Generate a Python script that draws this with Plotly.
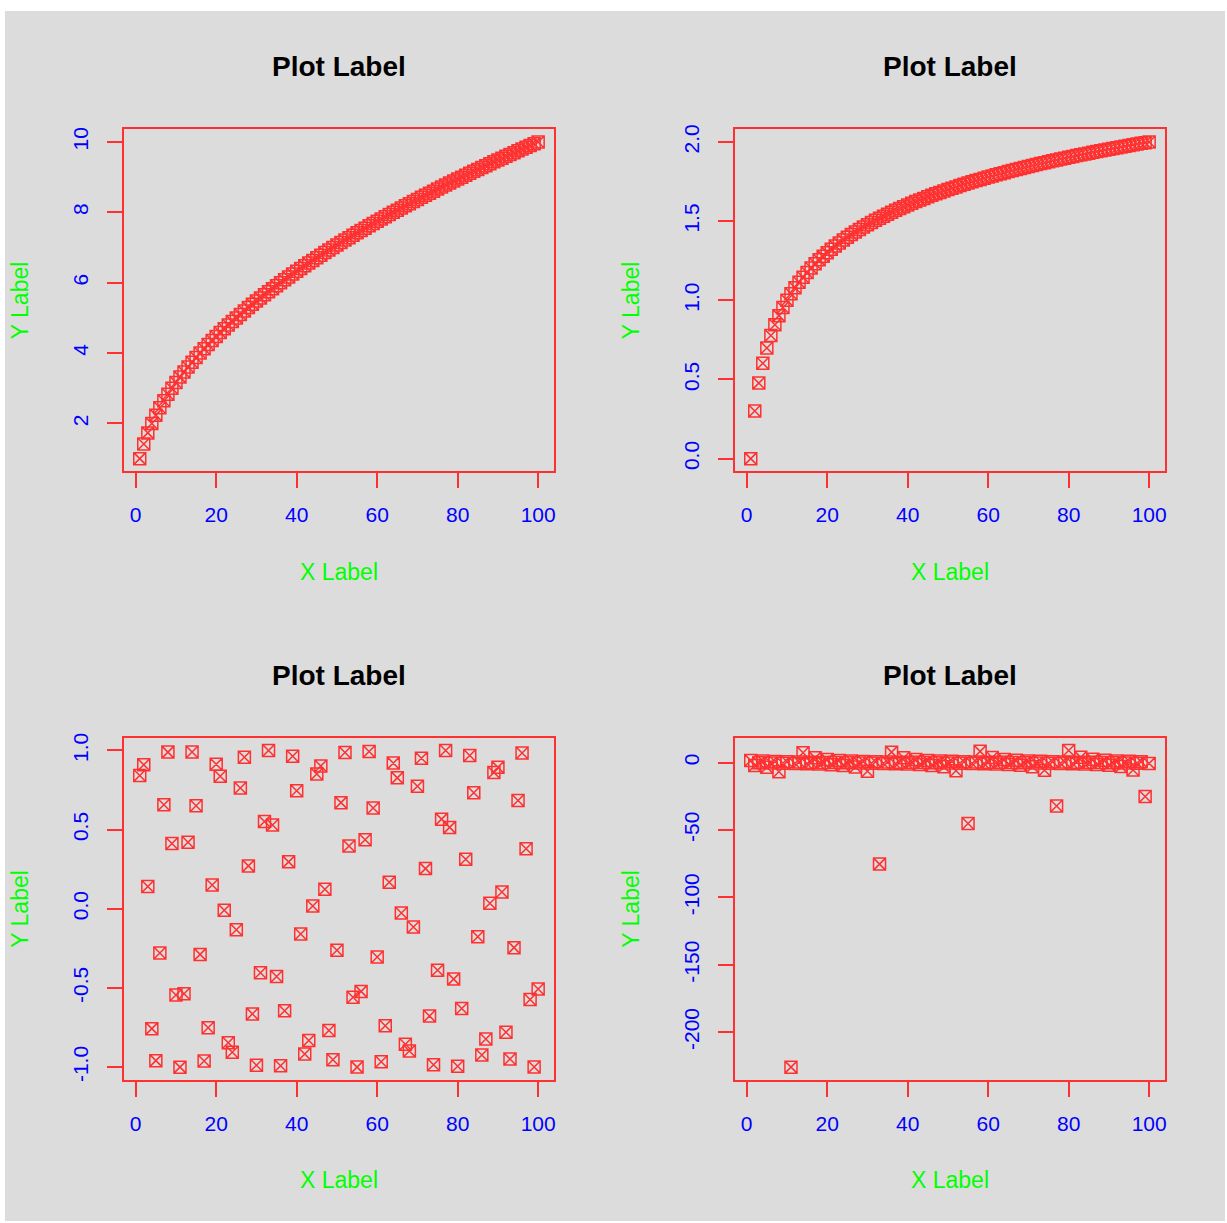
import plotly.graph_objects as go

# x values shared by all four panels
x_vals = list(range(1, 101))

sqrt_vals = [
    1.000, 1.414, 1.732, 2.000, 2.236, 2.449, 2.646, 2.828, 3.000, 3.162,
    3.317, 3.464, 3.606, 3.742, 3.873, 4.000, 4.123, 4.243, 4.359, 4.472,
    4.583, 4.690, 4.796, 4.899, 5.000, 5.099, 5.196, 5.292, 5.385, 5.477,
    5.568, 5.657, 5.745, 5.831, 5.916, 6.000, 6.083, 6.164, 6.245, 6.325,
    6.403, 6.481, 6.557, 6.633, 6.708, 6.782, 6.856, 6.928, 7.000, 7.071,
    7.141, 7.211, 7.280, 7.348, 7.416, 7.483, 7.550, 7.616, 7.681, 7.746,
    7.810, 7.874, 7.937, 8.000, 8.062, 8.124, 8.185, 8.246, 8.307, 8.367,
    8.426, 8.485, 8.544, 8.602, 8.660, 8.718, 8.775, 8.832, 8.888, 8.944,
    9.000, 9.055, 9.110, 9.165, 9.220, 9.274, 9.327, 9.381, 9.434, 9.487,
    9.539, 9.592, 9.644, 9.695, 9.747, 9.798, 9.849, 9.899, 9.950, 10.000,
]

log_vals = [
    0.0000, 0.3010, 0.4771, 0.6021, 0.6990, 0.7782, 0.8451, 0.9031, 0.9542, 1.0000,
    1.0414, 1.0792, 1.1139, 1.1461, 1.1761, 1.2041, 1.2304, 1.2553, 1.2788, 1.3010,
    1.3222, 1.3424, 1.3617, 1.3802, 1.3979, 1.4150, 1.4314, 1.4472, 1.4624, 1.4771,
    1.4914, 1.5051, 1.5185, 1.5315, 1.5441, 1.5563, 1.5682, 1.5798, 1.5911, 1.6021,
    1.6128, 1.6232, 1.6335, 1.6435, 1.6532, 1.6628, 1.6721, 1.6812, 1.6902, 1.6990,
    1.7076, 1.7160, 1.7243, 1.7324, 1.7404, 1.7482, 1.7559, 1.7634, 1.7709, 1.7782,
    1.7853, 1.7924, 1.7993, 1.8062, 1.8129, 1.8195, 1.8261, 1.8325, 1.8388, 1.8451,
    1.8513, 1.8573, 1.8633, 1.8692, 1.8751, 1.8808, 1.8865, 1.8921, 1.8976, 1.9031,
    1.9085, 1.9138, 1.9191, 1.9243, 1.9294, 1.9345, 1.9395, 1.9445, 1.9494, 1.9542,
    1.9590, 1.9638, 1.9685, 1.9731, 1.9777, 1.9823, 1.9868, 1.9912, 1.9956, 2.0000,
]

sin_vals = [
    0.841471, 0.909297, 0.141120, -0.756802, -0.958924, -0.279415, 0.656987, 0.989358, 0.412118, -0.544021,
    -0.999990, -0.536573, 0.420167, 0.990607, 0.650288, -0.287903, -0.961397, -0.750987, 0.149877, 0.912945,
    0.836656, -0.008851, -0.846220, -0.905578, -0.132352, 0.762558, 0.956376, 0.270906, -0.663634, -0.988032,
    -0.404038, 0.551427, 0.999912, 0.529083, -0.428183, -0.991779, -0.643538, 0.296369, 0.963795, 0.745113,
    -0.158623, -0.916522, -0.831775, 0.017702, 0.850904, 0.901788, 0.123573, -0.768255, -0.953753, -0.262375,
    0.670229, 0.986628, 0.395925, -0.558789, -0.999755, -0.521551, 0.436165, 0.992873, 0.636738, -0.304811,
    -0.966118, -0.739181, 0.167356, 0.920026, 0.826880, -0.026551, -0.855520, -0.897928, -0.114785, 0.773891,
    0.951055, 0.253823, -0.676772, -0.985146, -0.387782, 0.566108, 0.999520, 0.513978, -0.444113, -0.993889,
    -0.629888, 0.313229, 0.968364, 0.733190, -0.176076, -0.923458, -0.821818, 0.035398, 0.860069, 0.893997,
    0.105988, -0.779466, -0.948282, -0.245252, 0.683262, 0.983588, 0.379608, -0.573382, -0.999207, -0.506366,
]

tan_vals = [
    1.557408, -2.185040, -0.142547, 1.157821, -3.380515, -0.291006, 0.871448, -6.799711, -0.452316, 0.648361,
    -225.950846, -0.635860, 0.463021, 7.244607, -0.855993, 0.300632, 3.493916, -1.137314, 0.151589, 2.237161,
    -1.527496, 0.008851, 1.588153, -2.134897, -0.133526, 1.178754, -3.273728, -0.281429, 0.887142, -6.405331,
    -0.441695, 0.661006, -75.313015, -0.623499, 0.473815, 7.750470, -0.840771, 0.310309, 3.614554, -1.117215,
    0.160657, 2.291388, -1.498377, 0.017704, 1.619775, -2.086613, -0.124528, 1.200127, -3.172908, -0.271901,
    0.903086, -6.053272, -0.431158, 0.673800, -45.183085, -0.611274, 0.484699, 8.330857, -0.825775, 0.320040,
    3.743198, -1.097513, 0.169749, 2.347864, -1.470144, 0.026561, 1.652072, -2.040081, -0.115548, 1.221966,
    -3.077860, -0.262417, 0.919286, -5.737022, -0.420701, 0.686748, -32.268575, -0.599181, 0.495677, 9.003655,
    -0.810994, 0.329826, 3.880596, -1.078182, 0.178873, 2.406726, -1.442412, 0.035420, 1.685825, -1.995200,
    -0.106587, 1.244214, -2.987366, -0.252962, 0.935757, -5.447356, -0.410321, 0.699848, -25.092534, -0.587214,
]

x_ticks = [0, 20, 40, 60, 80, 100]
x_tick_labels = ["0", "20", "40", "60", "80", "100"]
y_ticks = [
    [2, 4, 6, 8, 10],
    [0.0, 0.5, 1.0, 1.5, 2.0],
    [-1.0, -0.5, 0.0, 0.5, 1.0],
    [-200, -150, -100, -50, 0],
]
y_tick_labels = [
    ["2", "4", "6", "8", "10"],
    ["0.0", "0.5", "1.0", "1.5", "2.0"],
    ["-1.0", "-0.5", "0.0", "0.5", "1.0"],
    ["-200", "-150", "-100", "-50", "0"],
]
series = [sqrt_vals, log_vals, sin_vals, tan_vals]

title_text = "Plot Label"
x_title = "X Label"
y_title = "Y Label"

W, H = 1227, 1223
BG = "#dcdcdc"
RED = "#ff3030"
BLUE = "#0000ff"
GREEN = "#00ff00"
FONT = "Liberation Sans, Arial, sans-serif"

# plot boxes in pixels: (left, right, top, bottom)
boxes = [
    (124, 555, 125, 469),
    (736, 1167, 125, 469),
    (124, 555, 737, 1081),
    (736, 1167, 737, 1081),
]


def padded(lo, hi, frac=0.04):
    d = (hi - lo) * frac
    return [lo - d, hi + d]


fig = go.Figure()
annotations = []

for i, (vals, box) in enumerate(zip(series, boxes)):
    n = "" if i == 0 else str(i + 1)
    left, right, top, bottom = box
    fig.add_trace(go.Scatter(
        x=x_vals, y=vals, mode="markers",
        xaxis="x" + n, yaxis="y" + n,
        marker=dict(symbol="square-x-open", size=12, color=RED,
                    line=dict(width=1.5, color=RED)),
        showlegend=False, hoverinfo="x+y",
    ))
    axis_common = dict(
        showline=True, mirror=True, linecolor=RED, linewidth=1.5,
        ticks="outside", ticklen=15, tickwidth=1.5, tickcolor=RED,
        showgrid=False, zeroline=False,
        tickfont=dict(family=FONT, size=21, color=BLUE),
    )
    fig.update_layout({
        "xaxis" + n: dict(
            domain=[left / W, right / W], anchor="y" + n,
            range=padded(min(x_vals), max(x_vals)),
            tickmode="array", tickvals=x_ticks, ticktext=x_tick_labels,
            ticklabelstandoff=9,
            **axis_common,
        ),
        "yaxis" + n: dict(
            domain=[1 - bottom / H, 1 - top / H], anchor="x" + n,
            range=padded(min(vals), max(vals)),
            tickmode="array", tickvals=y_ticks[i], ticktext=y_tick_labels[i],
            tickangle=-90, ticklabelstandoff=11,
            **axis_common,
        ),
    })
    cx = (left + right) / 2 / W
    cy = 1 - (top + bottom) / 2 / H
    annotations.append(dict(
        text="<b>" + title_text + "</b>", xref="paper", yref="paper",
        x=cx, y=1 - (top - 63) / H, xanchor="center", yanchor="middle",
        showarrow=False, font=dict(family=FONT, size=28, color="black"),
    ))
    annotations.append(dict(
        text=x_title, xref="paper", yref="paper",
        x=cx, y=1 - (bottom + 101) / H, xanchor="center", yanchor="middle",
        showarrow=False, font=dict(family=FONT, size=23, color=GREEN),
    ))
    annotations.append(dict(
        text=y_title, xref="paper", yref="paper",
        x=(left - 104) / W, y=cy, xanchor="center", yanchor="middle",
        textangle=-90,
        showarrow=False, font=dict(family=FONT, size=23, color=GREEN),
    ))

fig.update_layout(
    width=W, height=H,
    margin=dict(l=0, r=0, t=0, b=0),
    paper_bgcolor="white",
    plot_bgcolor=BG,
    annotations=annotations,
    shapes=[dict(
        type="rect", xref="paper", yref="paper",
        x0=5 / W, x1=1, y0=0, y1=1 - 6 / H,
        fillcolor=BG, line=dict(width=0), layer="below",
    )],
)

fig.write_html("out.html")
